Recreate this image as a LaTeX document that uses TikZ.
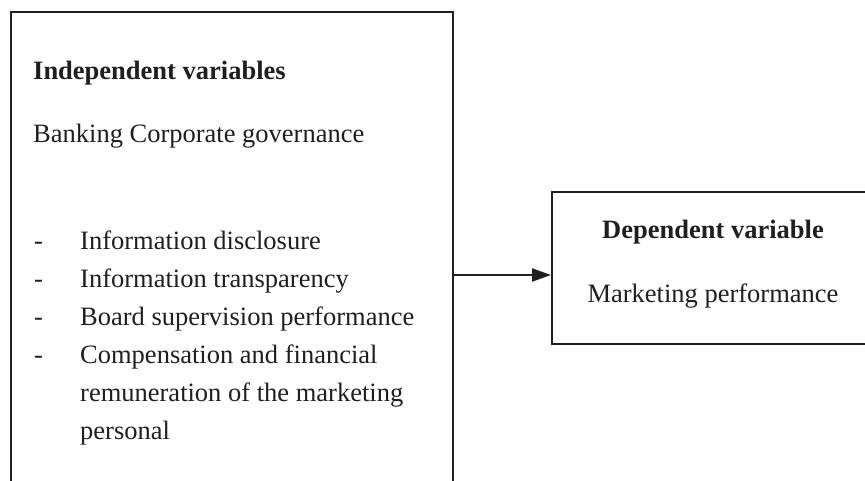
\documentclass[tikz,border=0pt]{standalone}
\usepackage{fontspec}
\setmainfont{Liberation Serif}
\usetikzlibrary{arrows.meta}
\begin{document}
\begin{tikzpicture}[x=1pt,y=-1pt,
  frame/.style={draw=black!88,line width=2pt,rectangle,inner sep=0pt},
  txt/.style={anchor=base west,inner sep=0pt,font=\fontsize{26.5}{32}\selectfont,text=black!88},
  head/.style={txt,font=\fontsize{26.5}{32}\selectfont\bfseries},
  link/.style={draw=black!88,line width=2pt,-{Stealth[length=19pt,width=13pt,inset=0pt]}}]
\useasboundingbox (0,0) rectangle (865,480);
\clip (0,0) rectangle (865,480);
% boxes
\node[frame,minimum width=442pt,minimum height=500pt,anchor=north west] (indep) at (10,11) {};
\node[frame,minimum width=340pt,minimum height=152pt,anchor=north west] (dep) at (551,191) {};
% left box contents
\node[head] (h1) at (33,79) {Independent variables};
\node[txt] (sub) at (33,142) {Banking Corporate governance};
\node[txt] (d1) at (34,249) {-};
\node[txt] (i1) at (80,249) {Information disclosure};
\node[txt] (d2) at (34,287) {-};
\node[txt] (i2) at (80,287) {Information transparency};
\node[txt] (d3) at (34,325) {-};
\node[txt] (i3) at (80,325) {Board supervision performance};
\node[txt] (d4) at (34,363) {-};
\node[txt] (i4) at (80,363) {Compensation and financial};
\node[txt] (i5) at (80,401) {remuneration of the marketing};
\node[txt] (i6) at (80,439) {personal};
% right box contents
\node[head,anchor=base] (h2) at (713,238) {Dependent variable};
\node[txt,anchor=base] (mp) at (713,302) {Marketing performance};
% connector
\coordinate (ay) at (0,275);
\draw[link] (indep.east |- ay) -- (dep.west |- ay);
\end{tikzpicture}
\end{document}
